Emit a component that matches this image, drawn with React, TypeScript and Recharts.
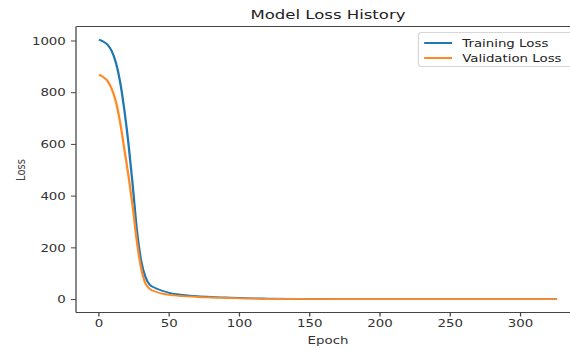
import { LineChart, Line, XAxis, YAxis } from "recharts";

// values (epoch -> loss)
const epochs = [0, 3, 6, 9, 12, 15, 18, 21, 24, 27, 30, 33, 36, 40, 45, 50, 60, 70, 80, 90, 100, 120, 140, 170, 200, 250, 300, 326];
const trainingLoss = [1005, 998, 986, 962, 918, 845, 737, 605, 445, 270, 152, 89, 58, 45, 34, 26, 18, 13, 10, 8, 6, 4, 3, 2, 2, 1.5, 1.5, 1.5];
const validationLoss = [870, 861, 846, 816, 767, 688, 585, 480, 362, 225, 122, 64, 42, 31, 23, 18, 13, 10, 8, 6, 5, 3, 2.5, 2, 1.5, 1.5, 1.5, 1.5];

const xTicks = [0, 50, 100, 150, 200, 250, 300];
const yTicks = [0, 200, 400, 600, 800, 1000];

const data = epochs.map((epoch, i) => ({
  epoch,
  train: trainingLoss[i],
  val: validationLoss[i],
}));

// the reference is stretched sideways, so draw narrow and scale in x
const K = 1.27;
const W = 470;
const H = 350;
const FONT = "DejaVu Sans, sans-serif";
const AXIS = "#444";
const BLUE = "#1f77b4";
const ORANGE = "#ff8a24";

const tickStyle = { fontSize: 10.5, fill: "#333", fontFamily: FONT };

export default function App() {
  return (
    <div style={{ width: 570, height: 350, overflow: "hidden", position: "relative", background: "#fff" }}>
      <style>{`body{margin:0}`}</style>
      <div
        style={{
          position: "absolute",
          left: 0,
          top: 0,
          width: W,
          height: H,
          transform: `scaleX(${K})`,
          transformOrigin: "0 0",
        }}
      >
        <LineChart
          width={W}
          height={H}
          data={data}
          margin={{ top: 26.5, right: W - 580 / K, bottom: 17.5, left: 0 }}
        >
          <XAxis
            dataKey="epoch"
            type="number"
            domain={[-16.3, 342.3]}
            ticks={xTicks}
            allowDataOverflow
            height={20}
            tickSize={4}
            tickMargin={3}
            axisLine={{ stroke: AXIS }}
            tickLine={{ stroke: AXIS }}
            tick={tickStyle}
          />
          <YAxis
            type="number"
            domain={[-50, 1056]}
            ticks={yTicks}
            allowDataOverflow
            width={76 / K}
            tickSize={4}
            tickMargin={4}
            axisLine={{ stroke: AXIS }}
            tickLine={{ stroke: AXIS }}
            tick={tickStyle}
          />
          <Line
            type="monotone"
            dataKey="train"
            stroke={BLUE}
            strokeWidth={1.8}
            dot={false}
            isAnimationActive={false}
          />
          <Line
            type="monotone"
            dataKey="val"
            stroke={ORANGE}
            strokeWidth={1.8}
            dot={false}
            isAnimationActive={false}
          />
        </LineChart>

        {/* top spine of the axes frame */}
        <div
          style={{
            position: "absolute",
            left: 76 / K,
            top: 26,
            width: W - 76 / K,
            height: 0,
            borderTop: `1px solid ${AXIS}`,
          }}
        />

        <div
          style={{
            position: "absolute",
            left: 328 / K - 100,
            width: 200,
            top: 7,
            textAlign: "center",
            fontFamily: FONT,
            fontSize: 13,
            color: "#222",
            lineHeight: "16px",
          }}
        >
          Model Loss History
        </div>

        <div
          style={{
            position: "absolute",
            left: 328 / K - 50,
            width: 100,
            top: 333,
            textAlign: "center",
            fontFamily: FONT,
            fontSize: 10.5,
            color: "#333",
            lineHeight: "14px",
          }}
        >
          Epoch
        </div>

        <div
          style={{
            position: "absolute",
            left: 22 / K - 25,
            width: 50,
            top: 169.5 - 7,
            textAlign: "center",
            fontFamily: FONT,
            fontSize: 10,
            color: "#444",
            lineHeight: "14px",
            transform: "rotate(-90deg)",
          }}
        >
          Loss
        </div>

        <div
          style={{
            position: "absolute",
            left: 418 / K,
            top: 32,
            width: 160 / K,
            height: 35,
            boxSizing: "border-box",
            border: "1px solid #d6d6d6",
            borderRadius: 3,
            background: "rgba(255,255,255,0.8)",
            fontFamily: FONT,
            fontSize: 10.5,
            color: "#222",
            paddingTop: 2,
          }}
        >
          {[
            { name: "Training Loss", color: BLUE },
            { name: "Validation Loss", color: ORANGE },
          ].map((item) => (
            <div key={item.name} style={{ display: "flex", alignItems: "center", height: 15 }}>
              <span
                style={{
                  display: "inline-block",
                  width: 28 / K,
                  height: 2,
                  background: item.color,
                  marginLeft: 5 / K,
                  marginRight: 10 / K,
                }}
              />
              <span>{item.name}</span>
            </div>
          ))}
        </div>
      </div>
    </div>
  );
}
